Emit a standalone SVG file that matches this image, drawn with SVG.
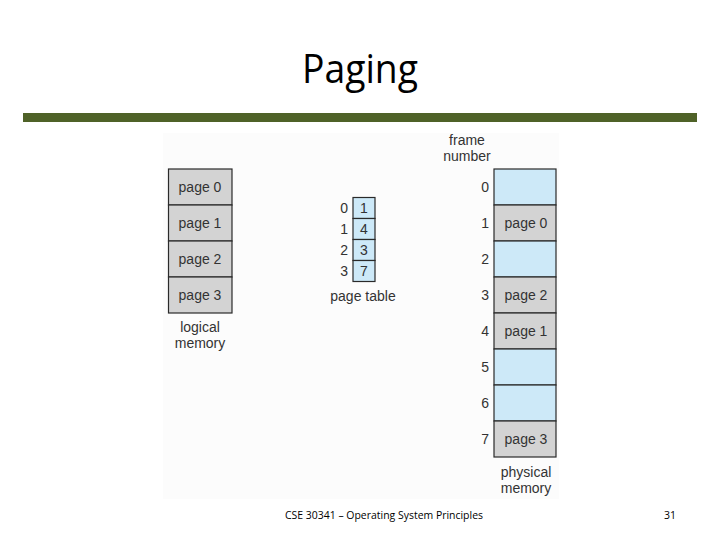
<svg xmlns="http://www.w3.org/2000/svg" width="720" height="540" viewBox="0 0 720 540">
<style>
.lbl{font-family:"Liberation Sans",Arial,sans-serif;font-size:14px;fill:#333;text-anchor:middle}
.num{font-family:"Liberation Sans",Arial,sans-serif;font-size:14px;fill:#333;text-anchor:end}
.gray{fill:#d3d3d3;stroke:#2a2a2a;stroke-width:1.2}
.blue{fill:#cde9f8;stroke:#2a2a2a;stroke-width:1.2}
.foot{font-family:"Open Sans","Liberation Sans",sans-serif;font-size:10.5px;fill:#000}
</style>
<rect width="720" height="540" fill="#fff"/>
<rect x="163" y="133" width="396" height="366" fill="#fcfcfc"/>
<text x="360" y="83" font-family="'Open Sans','Liberation Sans',sans-serif" font-size="40" fill="#000" text-anchor="middle" textLength="116" lengthAdjust="spacingAndGlyphs">Paging</text>
<rect x="23" y="113" width="674" height="9" fill="#4f6228"/>

<g id="logical-memory">
<rect class="gray" x="168.5" y="169" width="63.5" height="36"/>
<rect class="gray" x="168.5" y="205" width="63.5" height="36"/>
<rect class="gray" x="168.5" y="241" width="63.5" height="36"/>
<rect class="gray" x="168.5" y="277" width="63.5" height="36"/>
<text class="lbl" x="200" y="192">page 0</text>
<text class="lbl" x="200" y="228">page 1</text>
<text class="lbl" x="200" y="264">page 2</text>
<text class="lbl" x="200" y="300">page 3</text>
<text class="lbl" x="200" y="332">logical</text>
<text class="lbl" x="200" y="348">memory</text>
</g>

<g id="page-table">
<rect class="blue" x="353" y="197.5" width="22" height="21"/>
<rect class="blue" x="353" y="218.5" width="22" height="21"/>
<rect class="blue" x="353" y="239.5" width="22" height="21"/>
<rect class="blue" x="353" y="260.5" width="22" height="21"/>
<text class="lbl" x="364" y="213">1</text>
<text class="lbl" x="364" y="234">4</text>
<text class="lbl" x="364" y="255">3</text>
<text class="lbl" x="364" y="276">7</text>
<text class="num" x="348" y="213">0</text>
<text class="num" x="348" y="234">1</text>
<text class="num" x="348" y="255">2</text>
<text class="num" x="348" y="276">3</text>
<text class="lbl" x="363" y="301">page table</text>
</g>

<g id="physical-memory">
<rect class="blue" x="494" y="169" width="62" height="36"/>
<rect class="gray" x="494" y="205" width="62" height="36"/>
<rect class="blue" x="494" y="241" width="62" height="36"/>
<rect class="gray" x="494" y="277" width="62" height="36"/>
<rect class="gray" x="494" y="313" width="62" height="36"/>
<rect class="blue" x="494" y="349" width="62" height="36"/>
<rect class="blue" x="494" y="385" width="62" height="36"/>
<rect class="gray" x="494" y="421" width="62" height="36"/>
<text class="lbl" x="526" y="228">page 0</text>
<text class="lbl" x="526" y="300">page 2</text>
<text class="lbl" x="526" y="336">page 1</text>
<text class="lbl" x="526" y="444">page 3</text>
<text class="num" x="489" y="192">0</text>
<text class="num" x="489" y="228">1</text>
<text class="num" x="489" y="264">2</text>
<text class="num" x="489" y="300">3</text>
<text class="num" x="489" y="336">4</text>
<text class="num" x="489" y="372">5</text>
<text class="num" x="489" y="408">6</text>
<text class="num" x="489" y="444">7</text>
<text class="lbl" x="467" y="145">frame</text>
<text class="lbl" x="467" y="161">number</text>
<text class="lbl" x="526" y="477">physical</text>
<text class="lbl" x="526" y="493">memory</text>
</g>

<g id="connectors"></g>

<text class="foot" x="285" y="519" textLength="198" lengthAdjust="spacingAndGlyphs">CSE 30341 – Operating System Principles</text>
<text class="foot" x="664" y="519">31</text>
</svg>
